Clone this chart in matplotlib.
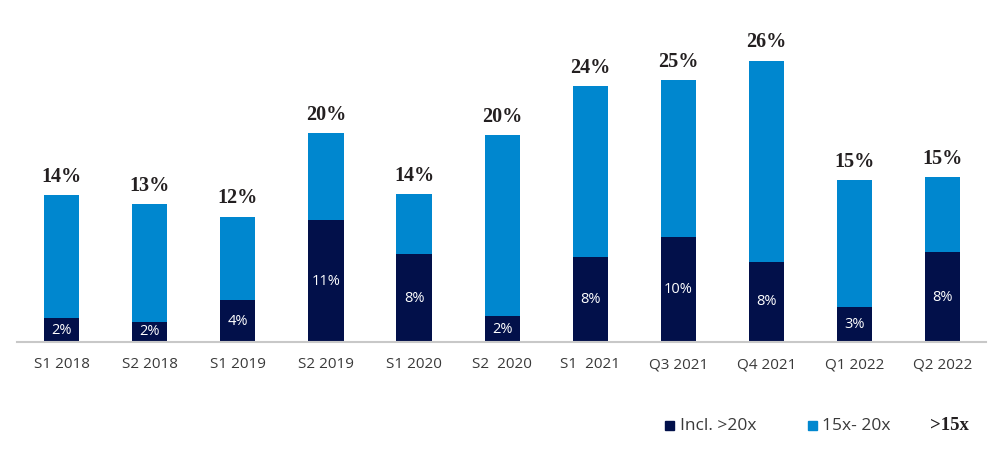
import matplotlib
matplotlib.use("Agg")
import matplotlib.pyplot as plt
from matplotlib.patches import Rectangle

categories = ["S1 2018", "S2 2018", "S1 2019", "S2 2019", "S1 2020", "S2  2020",
              "S1  2021", "Q3 2021", "Q4 2021", "Q1 2022", "Q2 2022"]
incl_20x = [2.2, 1.9, 3.9, 11.4, 8.2, 2.4, 7.9, 9.8, 7.5, 3.3, 8.4]
total_15x = [13.7, 12.9, 11.7, 19.5, 13.8, 19.3, 23.9, 24.5, 26.3, 15.1, 15.4]
range_15_20 = [t - d for t, d in zip(total_15x, incl_20x)]
inner_labels = ["2%", "2%", "4%", "11%", "8%", "2%", "8%", "10%", "8%", "3%", "8%"]
top_labels = ["14%", "13%", "12%", "20%", "14%", "20%", "24%", "25%", "26%", "15%", "15%"]

NAVY = "#02104a"
BLUE = "#0087cf"
SANS = ["Open Sans", "DejaVu Sans"]
SERIF = ["Liberation Serif", "DejaVu Serif"]

fig = plt.figure(figsize=(10, 4.51), dpi=100)
ax = fig.add_axes([0.017, 0.2417, 0.969, 0.6643])

x = list(range(len(categories)))
w = 0.40
ax.bar(x, incl_20x, width=w, color=NAVY, zorder=2)
ax.bar(x, range_15_20, width=w, bottom=incl_20x, color=BLUE, zorder=2)

for xi, d, t, il, tl in zip(x, incl_20x, total_15x, inner_labels, top_labels):
    ax.text(xi, d / 2, il, ha="center", va="center", color="white",
            fontsize=10.5, family=SANS)
    ax.annotate(tl, (xi, t), xytext=(0, 6), textcoords="offset points",
                ha="center", va="bottom", color="#231f20", fontsize=14.5,
                fontweight="bold", family=SERIF)

ax.set_xlim(-0.505, 10.49)
ax.set_ylim(0, 28)
ax.set_xticks(x)
ax.set_xticklabels(categories, family=SANS, fontsize=11, color="#3a3a3a")
ax.tick_params(axis="x", length=0, pad=11)
ax.set_yticks([])
for s in ["top", "right", "left"]:
    ax.spines[s].set_visible(False)
ax.spines["bottom"].set_color("#c8c8c8")
ax.spines["bottom"].set_linewidth(1.5)

# legend
W, H = 1000.0, 451.0
def fx(px):
    return px / W
def fy(py):
    return 1 - py / H

fig.add_artist(Rectangle((fx(665), fy(430)), 9 / W, 9 / H, transform=fig.transFigure,
                         color=NAVY))
fig.text(fx(680), fy(425.5), "Incl. >20x", family=SANS, fontsize=12.5,
         color="#3a3a3a", va="center", ha="left")
fig.add_artist(Rectangle((fx(808), fy(430)), 9 / W, 9 / H, transform=fig.transFigure,
                         color=BLUE))
fig.text(fx(822), fy(425.5), "15x- 20x", family=SANS, fontsize=12.5,
         color="#3a3a3a", va="center", ha="left")
fig.text(fx(930), fy(425.5), ">15x", family=SERIF, fontsize=13.5, fontweight="bold",
         color="#231f20", va="center", ha="left")

fig.savefig("out.png", dpi=100, facecolor="white")
